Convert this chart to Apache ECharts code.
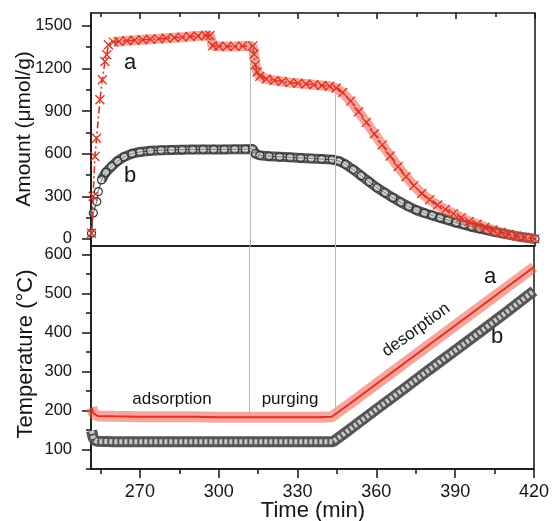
<!DOCTYPE html>
<html>
<head>
<meta charset="utf-8">
<script src="https://cdn.jsdelivr.net/npm/echarts@6/dist/echarts.min.js"></script>
<style>html,body{margin:0;padding:0;background:#fff;}#c{width:552px;height:521px;}</style>
</head>
<body>
<div id="c"></div>
<script>
// ---- data (time in min) ----
const amountA = [[251.6,40],[252.2,300],[252.9,580],[253.5,709],[254.8,979],[255.7,1120],[256.7,1249],[257.4,1296],[258.0,1366],[259.9,1385],[262,1390],[265,1395],[268,1398],[271,1402],[274,1405],[277,1408],[280,1412],[283,1416],[286,1420],[289,1424],[292,1428],[295,1432],[296.6,1432],[297.6,1360],[300,1356],[303,1355],[306,1355],[309,1357],[312.8,1358],[313.3,1300],[313.8,1225],[314.5,1175],[315.5,1145],[318,1125],[321,1115],[324,1108],[327,1100],[330,1095],[333,1090],[336,1085],[339,1080],[342,1074],[344.5,1062],[347,1030],[350,970],[353,895],[356,820],[359,740],[362,662],[365,584],[368,508],[371,438],[374,375],[377,320],[380,275],[383,238],[386,208],[389,178],[392,150],[395,123],[398,103],[401,82],[404,63],[407,47],[410,32],[413,20],[416,10],[420,0]];
const amountB = [[251.6,40],[252.3,183],[253.6,263],[254.2,333],[255.4,415],[257,468],[259.2,510],[261.5,548],[264,578],[267,600],[270,612],[274,620],[278,624],[282,626],[286,628],[290,629],[294,630],[298,630],[302,630],[306,631],[310,631],[312.8,633],[313.8,600],[315.5,588],[319,582],[323,578],[327,574],[331,570],[335,566],[339,562],[343,558],[345.5,548],[348,525],[351,488],[354,445],[357,402],[360,360],[363,325],[366,290],[369,258],[372,228],[375,202],[378,182],[381,165],[384,148],[387,132],[390,114],[393,100],[396,85],[399,72],[402,60],[405,48],[408,37],[411,26],[414,16],[417,8],[420,0]];
const tempA = [[251.6,208],[252.4,192],[254,186],[260,185],[270,184],[280,184],[290,184],[300,183],[310,183],[320,183],[330,183],[338,183],[343,184],[350,218],[360,268],[370,318],[380,368],[390,418],[400,468],[410,518],[420,568]];
const tempB = [[251.6,148],[252.3,128],[253.5,121],[260,120],[270,120],[280,120],[290,120],[300,120],[310,120],[320,120],[330,120],[338,120],[343.5,120],[350,152],[360,203],[370,253],[380,304],[390,354],[400,404],[410,455],[420,507]];
const stageBounds = [311.7, 344.2];
const xMajor = [270, 300, 330, 360, 390, 420];
const xMinor = [255, 285, 315, 345, 375, 405];
const amountMajor = [0, 300, 600, 900, 1200, 1500];
const amountMinor = [150, 450, 750, 1050, 1350];
const tempMajor = [100, 200, 300, 400, 500, 600];
const tempMinor = [50, 150, 250, 350, 450, 550];
const xRange = [251.4, 420];
const amountRange = [-50, 1590];
const tempRange = [50, 622];

function valueAt(arr, t) {
  for (let i = 1; i < arr.length; i++) {
    if (arr[i][0] >= t) {
      const [t0, v0] = arr[i - 1], [t1, v1] = arr[i];
      return v0 + (v1 - v0) * (t - t0) / (t1 - t0);
    }
  }
  return arr[arr.length - 1][1];
}

const FONT = '"Liberation Sans", Arial, sans-serif';
const INK = '#151515';
const RED = '#e3301f';
const RED_BAND = 'rgba(238,92,76,0.55)';
const plain = v => String(v);

function xAx(grid, pos, ticks, len, inside, labels) {
  return {
    type: 'value', gridIndex: grid, position: pos, offset: 0, min: xRange[0], max: xRange[1],
    axisLine: { show: !!labels, onZero: false, lineStyle: { color: INK, width: 1.5 } },
    axisTick: { show: true, inside: inside, length: len, customValues: ticks, lineStyle: { color: INK, width: 1.5 } },
    axisLabel: labels ? { show: true, customValues: ticks, formatter: plain, fontSize: 18, margin: 14, color: INK, fontFamily: FONT } : { show: false },
    splitLine: { show: false }
  };
}
function yAx(grid, range, ticks, len, labels) {
  return {
    type: 'value', gridIndex: grid, position: 'left', offset: 0, min: range[0], max: range[1],
    axisLine: { show: !!labels, onZero: false, lineStyle: { color: INK, width: 1.5 } },
    axisTick: { show: true, inside: false, length: len, customValues: ticks, lineStyle: { color: INK, width: 1.5 } },
    axisLabel: labels ? { show: true, customValues: ticks, formatter: plain, fontSize: 16.5, margin: 19, color: INK, fontFamily: FONT } : { show: false },
    splitLine: { show: false }
  };
}

const markGray = { color: '#b8b8b8', width: 1, type: 'solid' };
const topMarks = stageBounds.map(t => [{ coord: [t, valueAt(amountA, t)] }, { coord: [t, amountRange[0]] }]);
const botMarks = stageBounds.map(t => [{ coord: [t, tempRange[1]] }, { coord: [t, valueAt(tempA, t)] }]);

const crossSym = 'path://M0,0L10,10M10,0L0,10';

const chart = echarts.init(document.getElementById('c'), null, { renderer: 'canvas' });
chart.setOption({
  animation: false,
  backgroundColor: '#fff',
  grid: [
    { left: 91, right: 17, top: 13, height: 233, show: true, borderColor: INK, borderWidth: 1.5 },
    { left: 91, right: 17, top: 246, height: 223, show: true, borderColor: INK, borderWidth: 1.5 }
  ],
  xAxis: [
    xAx(0, 'top', xMajor, 6, true, false),
    xAx(0, 'top', xMinor, 4, true, false),
    xAx(1, 'bottom', xMajor, 9, false, true),
    xAx(1, 'bottom', xMinor, 5, false, false)
  ],
  yAxis: [
    yAx(0, amountRange, amountMajor, 9, true),
    yAx(0, amountRange, amountMinor, 5, false),
    yAx(1, tempRange, tempMajor, 9, true),
    yAx(1, tempRange, tempMinor, 5, false)
  ],
  series: [
    // ---- top panel ----
    { type: 'line', xAxisIndex: 0, yAxisIndex: 0, z: 1, showSymbol: false, silent: true,
      data: amountB.filter(p => p[0] >= 255), lineStyle: { color: '#555', width: 10 },
      markLine: { silent: true, symbol: ['none', 'none'], label: { show: false }, lineStyle: markGray, data: topMarks } },
    { type: 'line', xAxisIndex: 0, yAxisIndex: 0, z: 2, showSymbol: false, silent: true,
      data: amountB.filter(p => p[0] >= 255), lineStyle: { color: '#c4c4c4', width: 4 } },
    { type: 'line', xAxisIndex: 0, yAxisIndex: 0, z: 3, silent: true, data: amountB,
      symbol: 'circle', symbolSize: 8,
      itemStyle: { color: 'rgba(255,255,255,0.35)', borderColor: '#333', borderWidth: 1.2 },
      lineStyle: { color: '#333', width: 1 } },
    { type: 'line', xAxisIndex: 0, yAxisIndex: 0, z: 4, showSymbol: false, silent: true,
      data: amountA.filter(p => p[0] >= 259), lineStyle: { color: RED_BAND, width: 10 } },
    { type: 'line', xAxisIndex: 0, yAxisIndex: 0, z: 5, silent: true, data: amountA,
      symbol: crossSym, symbolSize: 9,
      itemStyle: { color: 'rgba(0,0,0,0)', borderColor: RED, borderWidth: 1.3 },
      lineStyle: { color: RED, width: 1.6, type: [7, 3, 2, 3] } },
    // ---- bottom panel ----
    { type: 'line', xAxisIndex: 2, yAxisIndex: 2, z: 1, showSymbol: false, silent: true,
      data: tempB, lineStyle: { color: '#555', width: 11 },
      markLine: { silent: true, symbol: ['none', 'none'], label: { show: false }, lineStyle: markGray, data: botMarks } },
    { type: 'line', xAxisIndex: 2, yAxisIndex: 2, z: 2, showSymbol: false, silent: true,
      data: tempB, lineStyle: { color: '#c8c8c8', width: 5, type: [3, 2] } },
    { type: 'line', xAxisIndex: 2, yAxisIndex: 2, z: 4, showSymbol: false, silent: true,
      data: tempA, lineStyle: { color: RED_BAND, width: 11 } },
    { type: 'line', xAxisIndex: 2, yAxisIndex: 2, z: 5, showSymbol: false, silent: true,
      data: tempA, lineStyle: { color: RED, width: 2 } }
  ],
  graphic: [
    { type: 'text', x: 24, y: 129, rotation: Math.PI / 2, style: { text: 'Amount (μmol/g)', font: '21px ' + FONT, fill: INK, align: 'center', verticalAlign: 'middle' } },
    { type: 'text', x: 26, y: 354, rotation: Math.PI / 2, style: { text: 'Temperature (°C)', font: '22px ' + FONT, fill: INK, align: 'center', verticalAlign: 'middle' } },
    { type: 'text', x: 313, y: 511, style: { text: 'Time (min)', font: '22px ' + FONT, fill: INK, align: 'center', verticalAlign: 'middle' } },
    { type: 'text', x: 130, y: 63, style: { text: 'a', font: '22px ' + FONT, fill: INK, align: 'center', verticalAlign: 'middle' } },
    { type: 'text', x: 130, y: 176, style: { text: 'b', font: '22px ' + FONT, fill: INK, align: 'center', verticalAlign: 'middle' } },
    { type: 'text', x: 172, y: 399, style: { text: 'adsorption', font: '17px ' + FONT, fill: INK, align: 'center', verticalAlign: 'middle' } },
    { type: 'text', x: 290, y: 399, style: { text: 'purging', font: '17px ' + FONT, fill: INK, align: 'center', verticalAlign: 'middle' } },
    { type: 'text', x: 416, y: 330, rotation: 36 * Math.PI / 180, style: { text: 'desorption', font: '17px ' + FONT, fill: INK, align: 'center', verticalAlign: 'middle' } },
    { type: 'text', x: 490, y: 277, style: { text: 'a', font: '22px ' + FONT, fill: INK, align: 'center', verticalAlign: 'middle' } },
    { type: 'text', x: 497, y: 337, style: { text: 'b', font: '22px ' + FONT, fill: INK, align: 'center', verticalAlign: 'middle' } }
  ]
});
</script>
</body>
</html>
